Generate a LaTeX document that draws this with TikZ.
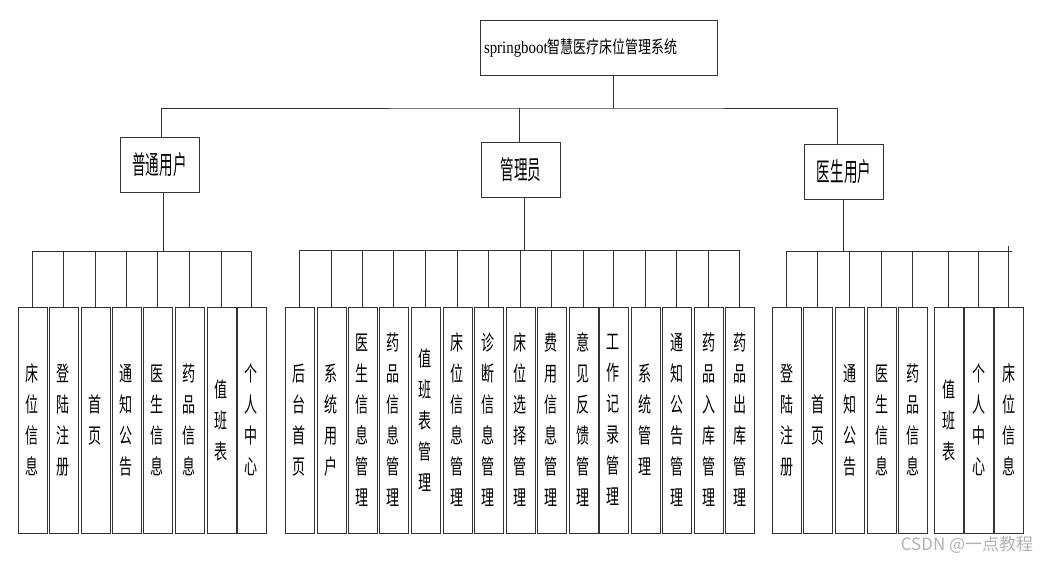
\documentclass[tikz,border=0pt]{standalone}
\usepackage{fontspec}
\setmainfont{Liberation Serif}
\newfontfamily\titlelatin[FakeStretch=0.85]{Liberation Serif}
\newfontfamily\titlefont[FakeStretch=0.74]{Noto Sans CJK SC}
\newfontfamily\rolefont[FakeStretch=0.52]{Noto Sans CJK SC}
\newfontfamily\leaffont[FakeStretch=0.62]{Noto Sans CJK SC}
\newfontfamily\markfont{Noto Sans CJK SC}

\tikzset{
  box/.style={draw=black!80, line width=0.9pt, inner sep=0pt},
  rootbox/.style={box, minimum width=237pt, minimum height=55pt, inner sep=4pt, text width=229pt, align=left},
  rolebox/.style={box, minimum width=79pt, minimum height=55pt, font=\rolefont\fontsize{26}{26}\selectfont},
  leaf/.style={box, minimum width=29pt, minimum height=226pt, align=center, font=\leaffont\fontsize{21}{31}\selectfont},
  link/.style={draw=black!80, line width=0.9pt},
}

\begin{document}
\begin{tikzpicture}[x=1pt, y=-1pt]
    \useasboundingbox (0,0) rectangle (1046,563);

    % Top: system
    \node[rootbox] (root) at (598.5,47.5)
        {\fontsize{17.5}{20}\selectfont\titlelatin springboot\titlefont 智慧医疗床位管理系统};

    % Roles
    \node[rolebox] (user) at (159.5,165) {普通用户};
    \node[rolebox] (admin) at (521,170) {管理员};
    \node[rolebox] (doctor) at (844,172) {医生用户};

    \coordinate (top) at (613,108);
    \draw[link] (root.south -| top) -- (top);
    \draw[link] ([xshift=1.5pt]user.north) |- (top) -| ([xshift=-7pt]doctor.north);
    \draw[link] ([xshift=-1.5pt]admin.north) -- ([xshift=-1.5pt]admin.north |- top);

    % Ordinary user functions
    \foreach \l/\t [count=\i] in {18/{床\\位\\信\\息}, 49/{登\\陆\\注\\册}, 81/{首\\页},
        112/{通\\知\\公\\告}, 143/{医\\生\\信\\息}, 175/{药\\品\\信\\息},
        207/{值\\班\\表}, 237/{个\\人\\中\\心}}
        \node[leaf] (u\i) at (\l+14.5,420) {\t};

    \coordinate (g1) at (163.5,251);
    \draw[link] (g1 |- user.south) -- (g1);
    \draw[link] (g1 -| u1.north) -- (g1 -| u8.north);
    \foreach \i in {1,...,8}
        \draw[link] (g1 -| u\i.north) -- (u\i.north);

    % Admin functions
    \foreach \l/\t [count=\i] in {285/{后\\台\\首\\页}, 317/{系\\统\\用\\户},
        348/{医\\生\\信\\息\\管\\理}, 379/{药\\品\\信\\息\\管\\理}, 411/{值\\班\\表\\管\\理},
        443/{床\\位\\信\\息\\管\\理}, 474/{诊\\断\\信\\息\\管\\理}, 506/{床\\位\\选\\择\\管\\理},
        537/{费\\用\\信\\息\\管\\理}, 569/{意\\见\\反\\馈\\管\\理}, 599/{工\\作\\记\\录\\管\\理},
        631/{系\\统\\管\\理}, 662/{通\\知\\公\\告\\管\\理}, 694/{药\\品\\入\\库\\管\\理},
        725/{药\\品\\出\\库\\管\\理}}
        \node[leaf] (a\i) at (\l+14.5,420) {\t};

    \coordinate (g2) at (524.5,250);
    \draw[link] (g2 |- admin.south) -- (g2);
    \draw[link] (g2 -| a1.north) -- (g2 -| a15.north);
    \foreach \i in {1,...,15}
        \draw[link] (g2 -| a\i.north) -- (a\i.north);

    % Doctor functions
    \foreach \l/\t [count=\i] in {772/{登\\陆\\注\\册}, 803/{首\\页}, 835/{通\\知\\公\\告},
        867/{医\\生\\信\\息}, 898/{药\\品\\信\\息}, 934/{值\\班\\表},
        964/{个\\人\\中\\心}, 994/{床\\位\\信\\息}}
        \node[leaf] (d\i) at (\l+14.5,420) {\t};

    \coordinate (g3) at (843,251);
    \draw[link] (g3 |- doctor.south) -- (g3);
    \draw[link] (g3 -| d1.north) -- ([xshift=3pt]g3 -| d8.north);
    \foreach \i in {1,...,7}
        \draw[link] (g3 -| d\i.north) -- (d\i.north);
    \draw[link] ([yshift=5pt]g3 -| d8.north) -- (d8.north);

    % watermark
    \node[text=black!30, font=\markfont\fontsize{17}{17}\selectfont] (mark) at (967,545) {CSDN @一点教程};
\end{tikzpicture}
\end{document}
